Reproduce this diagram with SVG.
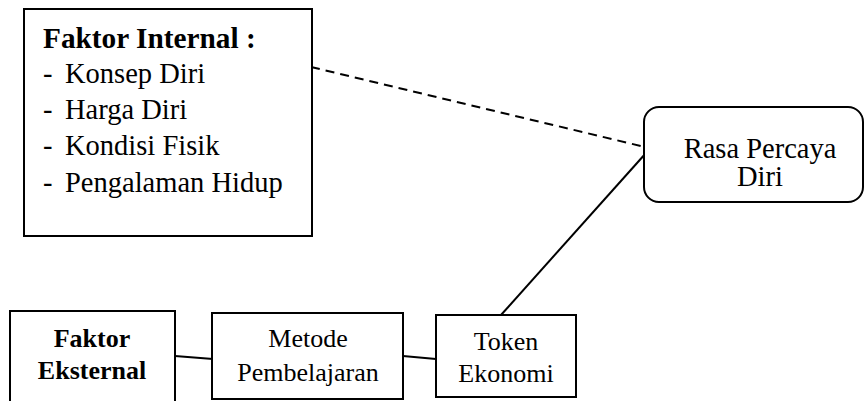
<svg xmlns="http://www.w3.org/2000/svg" width="864" height="401" viewBox="0 0 864 401">
<style>
.box{fill:#fff;stroke:#000;stroke-width:2}
text{font-family:'Liberation Serif','Times New Roman',serif;fill:#000}
.b{font-weight:bold}
.ln{stroke:#000;stroke-width:2;fill:none}
.dash{stroke-dasharray:9 6}
</style>
<rect width="864" height="401" fill="#fff"/>
<g id="connectors">
<line class="ln dash" x1="311" y1="67" x2="645" y2="147"/>
<line class="ln" x1="646" y1="153" x2="501" y2="315"/>
<line class="ln" x1="175" y1="356" x2="213" y2="359"/>
<line class="ln" x1="403" y1="356" x2="436" y2="359"/>
</g>
<g id="faktor-internal">
<rect class="box" x="24" y="9" width="288" height="227"/>
<text class="b" x="43" y="48" font-size="29.3">Faktor Internal :</text>
<g font-size="28.5">
<text x="43" y="83">-</text><text x="65" y="83">Konsep Diri</text>
<text x="43" y="119">-</text><text x="65" y="119">Harga Diri</text>
<text x="43" y="155">-</text><text x="65" y="155">Kondisi Fisik</text>
<text x="43" y="192">-</text><text x="65" y="192">Pengalaman Hidup</text>
</g>
</g>
<g id="rasa-percaya-diri">
<rect class="box" x="644" y="107" width="219" height="95" rx="15" ry="15"/>
<text x="760" y="158" font-size="28.5" text-anchor="middle">Rasa Percaya</text>
<text x="760" y="186" font-size="28.5" text-anchor="middle">Diri</text>
</g>
<g id="faktor-eksternal">
<rect class="box" x="10" y="311" width="165" height="100"/>
<text class="b" x="92" y="347" font-size="26" text-anchor="middle">Faktor</text>
<text class="b" x="92" y="379" font-size="26" text-anchor="middle">Eksternal</text>
</g>
<g id="metode-pembelajaran">
<rect class="box" x="212" y="313" width="191" height="86"/>
<text x="308" y="347" font-size="26" text-anchor="middle">Metode</text>
<text x="308" y="381" font-size="26" text-anchor="middle">Pembelajaran</text>
</g>
<g id="token-ekonomi">
<rect class="box" x="436" y="315" width="140" height="82"/>
<text x="506" y="350" font-size="26" text-anchor="middle">Token</text>
<text x="506" y="382" font-size="26" text-anchor="middle">Ekonomi</text>
</g>
</svg>
